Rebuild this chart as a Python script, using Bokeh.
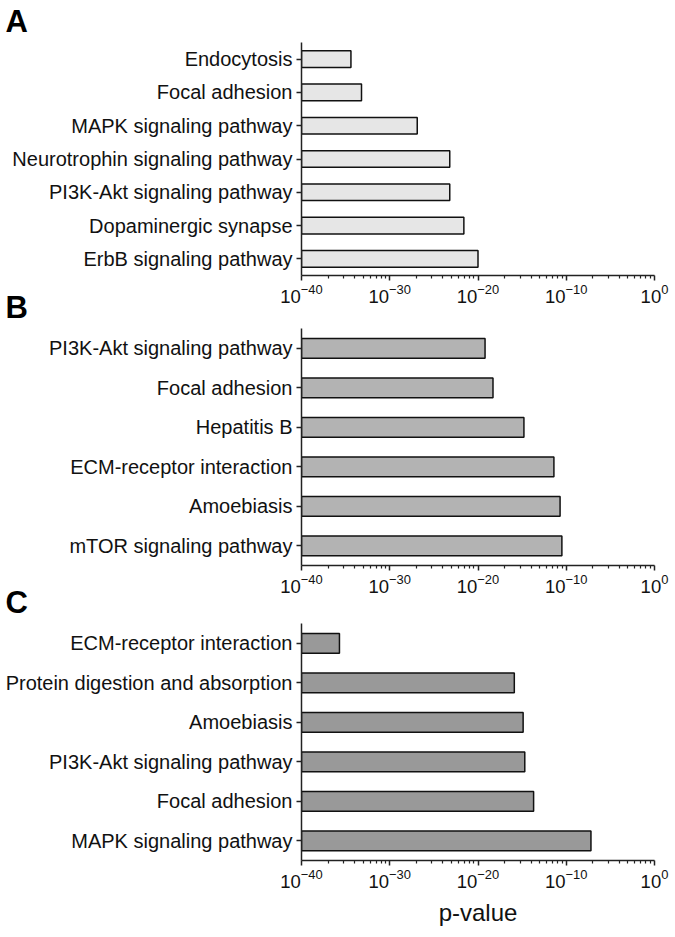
import math
from bokeh.plotting import figure
from bokeh.models import FactorRange, FixedTicker, LogTickFormatter, Range1d, Title
from bokeh.layouts import column
from bokeh.embed import file_html
from bokeh.resources import INLINE

# ---- data (p-values) ----
cats_a = ["Endocytosis", "Focal adhesion", "MAPK signaling pathway",
          "Neurotrophin signaling pathway", "PI3K-Akt signaling pathway",
          "Dopaminergic synapse", "ErbB signaling pathway"]
pval_a = [4e-35, 6.3e-34, 1.3e-27, 6.3e-24, 6.3e-24, 2.5e-22, 1e-20]

cats_b = ["PI3K-Akt signaling pathway", "Focal adhesion", "Hepatitis B",
          "ECM-receptor interaction", "Amoebiasis", "mTOR signaling pathway"]
pval_b = [6.3e-20, 5e-19, 1.6e-15, 4e-12, 2e-11, 3.2e-11]

cats_c = ["ECM-receptor interaction", "Protein digestion and absorption",
          "Amoebiasis", "PI3K-Akt signaling pathway", "Focal adhesion",
          "MAPK signaling pathway"]
pval_c = [2e-36, 1.3e-16, 1.3e-15, 2e-15, 2e-14, 6.3e-8]

major_ticks = [1e-40, 1e-30, 1e-20, 1e-10, 1.0]
x_start, x_end = 1e-40, 1.0

# minor ticks in the style of the original axis (log pattern across each 10-decade step)
minor_ticks = []
for d in (-40, -30, -20, -10):
    for k in range(2, 10):
        minor_ticks.append(10 ** (d + 10 * math.log10(k)))

FONT = "Liberation Sans"
AX = "#222222"
TXT = "#111111"
TOP_B = 46


def panel(letter, cats, vals, color, frame_h, bottom_b, margin_top, xlabel=None):
    p = figure(y_range=FactorRange(*reversed(cats)), x_axis_type="log",
               x_range=Range1d(x_start, x_end),
               frame_width=353, frame_height=frame_h,
               min_border_left=301, min_border_right=21,
               min_border_top=TOP_B, min_border_bottom=bottom_b,
               output_backend="svg", toolbar_location=None,
               margin=(margin_top, 0, 0, 0))
    p.title = Title(text=letter, align="left", offset=-296, standoff=7,
                    text_font=FONT, text_font_size="31px", text_font_style="bold",
                    text_color="#000000")
    p.hbar(y=cats, left=x_start, right=vals, height=0.5,
           fill_color=color, line_color=TXT, line_width=1.5)
    p.outline_line_color = None
    p.border_fill_alpha = 0
    p.xgrid.grid_line_color = None
    p.ygrid.grid_line_color = None

    xa = p.xaxis[0]
    xa.ticker = FixedTicker(ticks=major_ticks, minor_ticks=minor_ticks)
    xa.formatter = LogTickFormatter()
    xa.major_label_text_color = TXT
    xa.major_label_text_font = FONT
    xa.major_label_text_font_size = "18.5px"
    xa.major_label_standoff = 3
    xa.axis_line_width = 1.5
    xa.axis_line_color = AX
    xa.major_tick_line_color = AX
    xa.major_tick_line_width = 1.5
    xa.minor_tick_line_color = AX
    xa.minor_tick_line_width = 1.2
    xa.major_tick_out = 5
    xa.major_tick_in = 0
    xa.minor_tick_out = 3
    xa.minor_tick_in = 0
    if xlabel:
        xa.axis_label = xlabel
        xa.axis_label_text_font = FONT
        xa.axis_label_text_font_size = "24px"
        xa.axis_label_text_font_style = "normal"
        xa.axis_label_text_color = TXT
        xa.axis_label_standoff = 8

    ya = p.yaxis[0]
    ya.axis_line_width = 1.5
    ya.axis_line_color = AX
    ya.major_tick_line_color = AX
    ya.major_tick_line_width = 1.5
    ya.major_tick_out = 5
    ya.major_tick_in = 0
    ya.major_label_standoff = 4
    ya.major_label_text_font = FONT
    ya.major_label_text_font_size = "20px"
    ya.major_label_text_color = TXT
    return p


pa = panel("A", cats_a, pval_a, "#e6e6e6", 233, 40, -4)
pb = panel("B", cats_b, pval_b, "#b3b3b3", 237, 40, -33)
pc = panel("C", cats_c, pval_c, "#999999", 237, 70, -28, xlabel="p-value")

layout = column(pa, pb, pc, spacing=0)
open("out.html", "w").write(file_html(layout, INLINE))
